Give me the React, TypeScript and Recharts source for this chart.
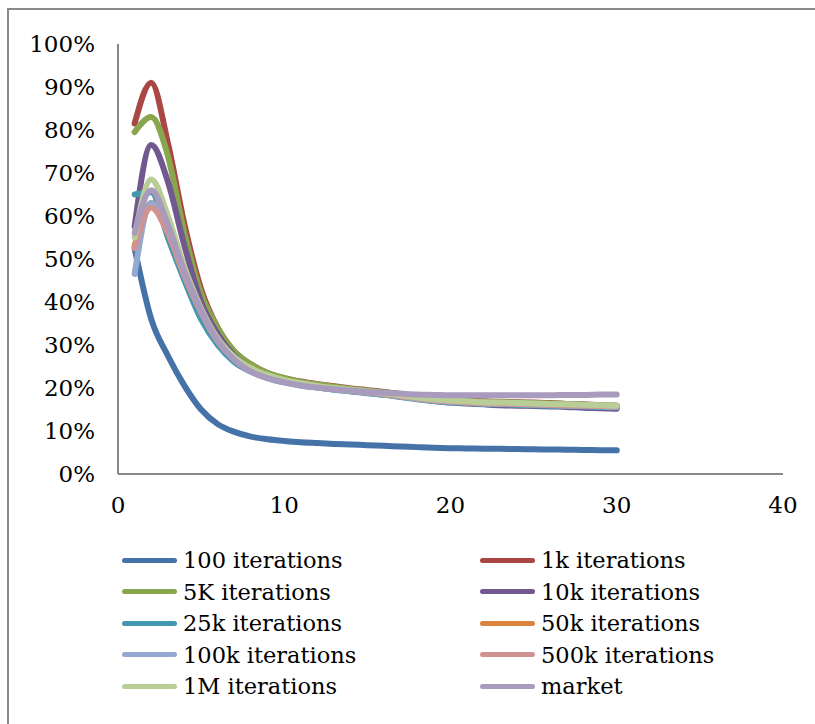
import React from "react";
import { LineChart, Line, XAxis, YAxis } from "recharts";

// x = run 1..30
const steps = [1, 2, 3, 4, 5, 6, 7, 8, 9, 10, 11, 12, 13, 14, 15, 16, 17, 18, 19, 20, 21, 22, 23, 24, 25, 26, 27, 28, 29, 30];

const it100 = [52.5, 36, 27.5, 20.5, 15, 11.6, 9.8, 8.7, 8.1, 7.7, 7.4, 7.2, 7.0, 6.85, 6.7, 6.55, 6.4, 6.25, 6.1, 6.0, 5.95, 5.9, 5.85, 5.8, 5.75, 5.7, 5.65, 5.6, 5.55, 5.5];
const it1k = [81.5, 91, 77, 58, 43, 34, 28.5, 25.5, 23.5, 22.3, 21.5, 20.9, 20.4, 19.9, 19.5, 19.1, 18.6, 18.1, 17.6, 17.3, 17.1, 16.9, 16.8, 16.7, 16.6, 16.5, 16.3, 16.2, 16.0, 15.9];
const it5k = [79.5, 83, 74, 56, 42, 34, 28.5, 25.5, 23.5, 22.3, 21.4, 20.8, 20.3, 19.8, 19.4, 19, 18.5, 18, 17.5, 17.2, 17, 16.8, 16.7, 16.6, 16.5, 16.4, 16.3, 16.1, 16, 15.9];
const it10k = [57.5, 76.5, 68, 53, 40, 32.5, 27.5, 24.5, 22.7, 21.5, 20.8, 20.2, 19.7, 19.3, 18.9, 18.5, 18, 17.5, 17, 16.6, 16.4, 16.2, 16, 15.9, 15.8, 15.7, 15.6, 15.4, 15.3, 15.2];
const it25k = [65, 65.5, 55, 45, 36, 30, 26, 23.8, 22.3, 21.3, 20.6, 20.1, 19.6, 19.2, 18.8, 18.4, 17.9, 17.4, 17, 16.7, 16.5, 16.3, 16.2, 16.1, 16, 15.9, 15.8, 15.7, 15.6, 15.5];
const it50k = [53, 63, 57, 47, 38, 31, 26.8, 24.3, 22.7, 21.6, 20.9, 20.3, 19.8, 19.4, 19, 18.6, 18.1, 17.6, 17.2, 16.9, 16.7, 16.5, 16.4, 16.3, 16.2, 16.1, 16, 15.9, 15.8, 15.7];
const it100k = [46.5, 63, 57, 47, 38, 31, 26.7, 24.2, 22.6, 21.5, 20.8, 20.2, 19.7, 19.3, 18.9, 18.5, 18, 17.5, 17.1, 16.8, 16.6, 16.4, 16.3, 16.2, 16.1, 16, 15.9, 15.8, 15.7, 15.6];
const it500k = [52.5, 62, 56, 46, 37.5, 30.8, 26.6, 24.1, 22.6, 21.6, 20.9, 20.3, 19.8, 19.4, 19, 18.6, 18.1, 17.6, 17.2, 16.9, 16.7, 16.5, 16.4, 16.3, 16.2, 16.1, 16, 15.9, 15.8, 15.8];
const it1M = [55, 68.5, 60, 48, 38.5, 31.5, 27.2, 24.6, 23, 21.9, 21.1, 20.5, 20, 19.6, 19.2, 18.8, 18.3, 17.8, 17.4, 17.1, 16.9, 16.7, 16.6, 16.5, 16.4, 16.3, 16.2, 16.1, 16, 15.9];
const market = [56, 66, 58, 47, 38, 31, 26.5, 23.8, 22.3, 21.3, 20.6, 20.1, 19.7, 19.4, 19.1, 18.9, 18.7, 18.5, 18.4, 18.3, 18.3, 18.3, 18.3, 18.3, 18.3, 18.3, 18.4, 18.4, 18.5, 18.5];

const xTicks = [0, 10, 20, 30, 40];
const yTicks = [0, 10, 20, 30, 40, 50, 60, 70, 80, 90, 100];

const series = [
  { key: "s100", name: "100 iterations", values: it100, color: "#4572A7" },
  { key: "s1k", name: "1k iterations", values: it1k, color: "#AA4643" },
  { key: "s5k", name: "5K iterations", values: it5k, color: "#89A54E" },
  { key: "s10k", name: "10k iterations", values: it10k, color: "#71588F" },
  { key: "s25k", name: "25k iterations", values: it25k, color: "#4198AF" },
  { key: "s50k", name: "50k iterations", values: it50k, color: "#DB843D" },
  { key: "s100k", name: "100k iterations", values: it100k, color: "#93A9CF" },
  { key: "s500k", name: "500k iterations", values: it500k, color: "#D19392" },
  { key: "s1M", name: "1M iterations", values: it1M, color: "#B9CD96" },
  { key: "market", name: "market", values: market, color: "#A99BBD" },
];

const data = steps.map((x, i) => {
  const row: Record<string, number> = { x };
  series.forEach((s) => { row[s.key] = s.values[i]; });
  return row;
});

const font = "'DejaVu Serif', serif";
const tickStyle = { fontSize: 23, fill: "#000", fontFamily: font };

export default function App() {
  return (
    <div style={{ position: "fixed", left: 0, top: 0, width: 815, height: 724, background: "#fff", overflow: "hidden" }}>
      <div style={{ position: "absolute", left: 7, top: 8, width: 900, height: 800, borderLeft: "2px solid #8a8a8a", borderTop: "2px solid #8a8a8a" }} />
      <div style={{ position: "absolute", left: 0, top: 0 }}>
        <LineChart width={815} height={724} data={data} margin={{ top: 44, right: 32, left: 0, bottom: 210 }}>
          <XAxis
            dataKey="x" type="number" domain={[0, 40]} ticks={xTicks}
            tick={tickStyle} tickLine={false} tickMargin={17} height={40}
            axisLine={{ stroke: "#888", strokeWidth: 2 }}
          />
          <YAxis
            type="number" domain={[0, 100]} ticks={yTicks} width={118}
            tickFormatter={(v) => `${v}%`}
            tick={tickStyle} tickLine={false} tickMargin={17}
            axisLine={{ stroke: "#888", strokeWidth: 2 }}
          />
          {series.map((s) => (
            <Line key={s.key} dataKey={s.key} name={s.name} type="monotone" stroke={s.color}
              strokeWidth={6} dot={false} strokeLinecap="round" isAnimationActive={false} />
          ))}
        </LineChart>
      </div>
      {series.map((s, i) => {
        const col = i % 2;
        const row = Math.floor(i / 2);
        const cy = 560 + row * 31.6;
        const lx = col === 0 ? 122 : 480;
        return (
          <div key={s.key} style={{ position: "absolute", left: lx, top: cy - 16, height: 32, display: "flex", alignItems: "center", fontFamily: font, fontSize: 22.5, color: "#000", whiteSpace: "nowrap" }}>
            <span style={{ display: "inline-block", width: 55, height: 5, borderRadius: 3, background: s.color, marginRight: 6 }} />
            <span>{s.name}</span>
          </div>
        );
      })}
    </div>
  );
}
